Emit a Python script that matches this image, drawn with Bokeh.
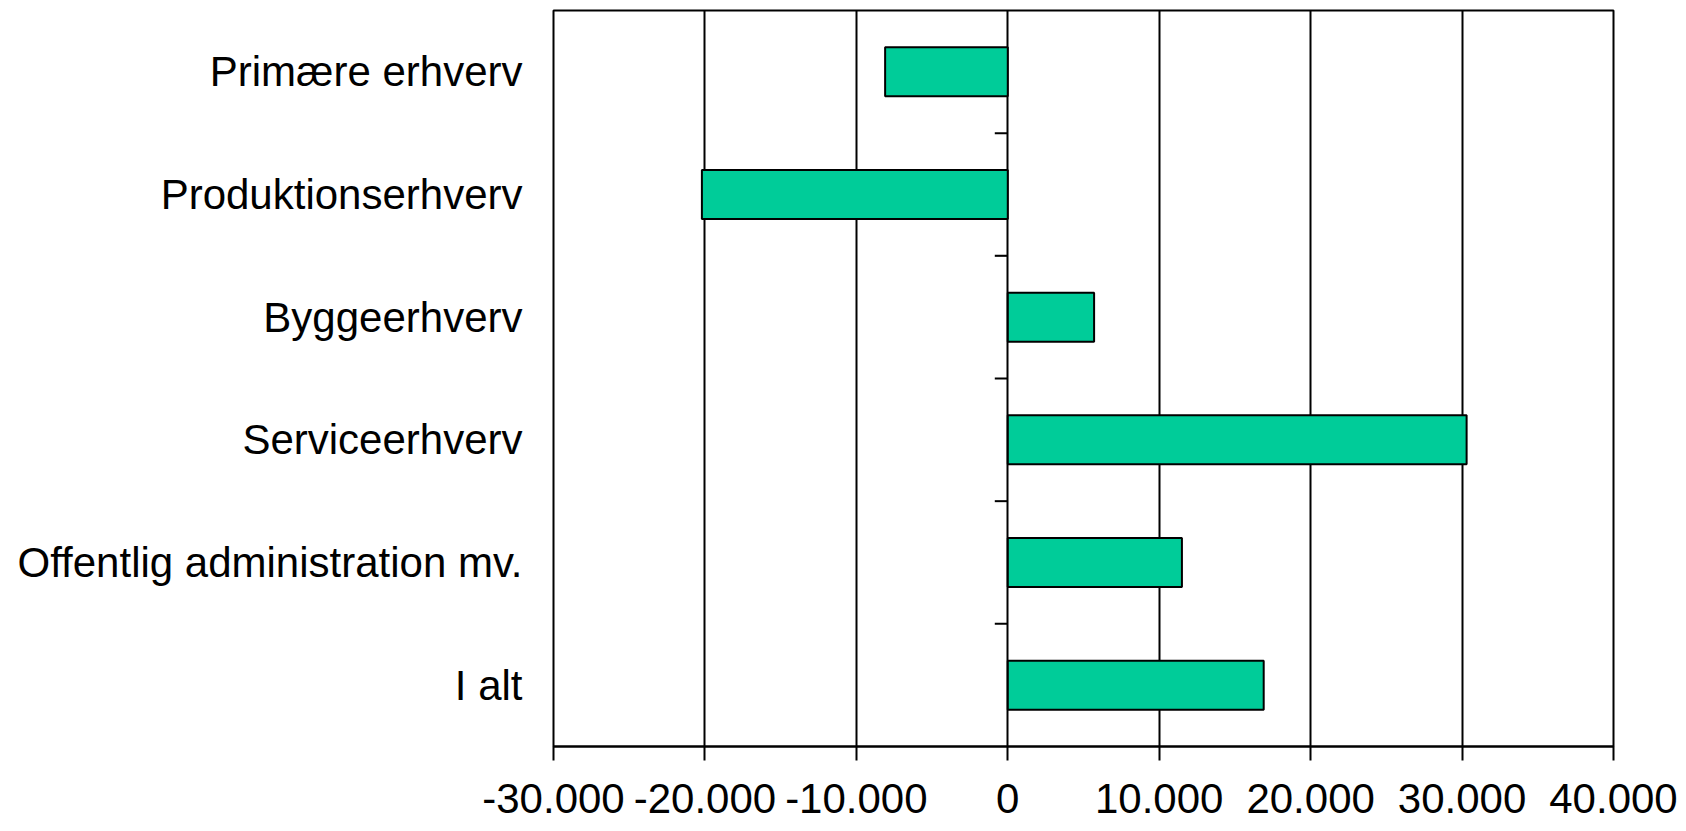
from bokeh.plotting import figure
from bokeh.models import Range1d, FixedTicker, ColumnDataSource
from bokeh.embed import file_html
from bokeh.resources import INLINE

categories = ["Primære erhverv", "Produktionserhverv", "Byggeerhverv",
              "Serviceerhverv", "Offentlig administration mv.", "I alt"]
values = [-8100, -20200, 5700, 30300, 11500, 16900]
x_ticks = [-30000, -20000, -10000, 0, 10000, 20000, 30000, 40000]
x_tick_labels = ["-30.000", "-20.000", "-10.000", "0", "10.000", "20.000", "30.000", "40.000"]

W, H = 1686, 831
BL, BR, BT, BB = 553, 73, 10, 85
FONT = "Liberation Sans"
FS = "42px"

xmin, xmax = x_ticks[0], x_ticks[-1]
n = len(categories)

p = figure(width=W, height=H, output_backend="svg", toolbar_location=None,
           x_range=Range1d(xmin, xmax), y_range=Range1d(n - 0.5, -0.5),
           min_border_left=BL, min_border_right=BR, min_border_top=BT, min_border_bottom=BB,
           background_fill_color="white", border_fill_color="white")

p.outline_line_color = "black"
p.outline_line_width = 2

# grid
p.ygrid.visible = False
p.xgrid.ticker = FixedTicker(ticks=x_ticks)
p.xgrid.grid_line_color = "black"
p.xgrid.grid_line_width = 2

# x axis
p.xaxis.ticker = FixedTicker(ticks=x_ticks)
p.xaxis.major_label_overrides = {t: l for t, l in zip(x_ticks, x_tick_labels)}
p.xaxis.axis_line_color = "black"
p.xaxis.axis_line_width = 2
p.xaxis.major_tick_line_color = "black"
p.xaxis.major_tick_line_width = 2
p.xaxis.major_tick_in = 0
p.xaxis.major_tick_out = 14
p.xaxis.minor_tick_line_color = None
p.xaxis.major_label_standoff = 23
p.xaxis.major_label_text_font = FONT
p.xaxis.major_label_text_font_size = FS
p.xaxis.major_label_text_color = "black"

# y axis (labels only, at the low side)
idx = list(range(n))
p.yaxis.ticker = FixedTicker(ticks=idx)
p.yaxis.major_label_overrides = {i: c for i, c in zip(idx, categories)}
p.yaxis.axis_line_color = None
p.yaxis.major_tick_line_color = None
p.yaxis.minor_tick_line_color = None
p.yaxis.major_tick_in = 0
p.yaxis.major_tick_out = 0
p.yaxis.major_label_standoff = 31
p.yaxis.major_label_text_font = FONT
p.yaxis.major_label_text_font_size = FS
p.yaxis.major_label_text_color = "black"

# bars
src = ColumnDataSource(dict(y=idx, right=values, cat=categories))
p.hbar(y="y", left=0, right="right", height=0.4, source=src,
       fill_color="#00CC99", line_color="black", line_width=2)

# category-boundary tick marks on the zero axis (pointing left)
frame_w = W - BL - BR
tick_len = 13 * (xmax - xmin) / frame_w
bounds = [i + 0.5 for i in idx[:-1]]
p.segment(x0=[0] * len(bounds), x1=[-tick_len] * len(bounds), y0=bounds, y1=bounds,
          line_color="black", line_width=2)

open("out.html", "w").write(file_html(p, INLINE))
